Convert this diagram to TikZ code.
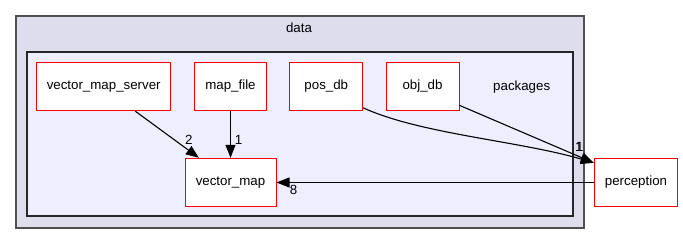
\documentclass[tikz,border=0pt]{standalone}
\usepackage{fontspec}
\setmainfont{Liberation Sans}
\usetikzlibrary{arrows.meta}

\definecolor{dirfill}{HTML}{DDDDEE}
\definecolor{pkgfill}{HTML}{EEEEFF}
\definecolor{dirline}{HTML}{505050}

\begin{document}
\begin{tikzpicture}[x=1pt, y=-1pt,
  font=\fontsize{13.3}{16}\selectfont,
  txt/.style={inner sep=0pt, text height=9.6pt, text depth=2.8pt},
  dir/.style={txt, draw=red, fill=white, line width=1pt, minimum height=48.4pt},
  lbl/.style={inner sep=0pt},
  dep/.style={-{Triangle[length=13pt,width=10pt]}, line width=1.1pt, black}]

\useasboundingbox (0,0) rectangle (683,244);

% outer directory and the packages folder inside it
\filldraw[fill=dirfill, draw=dirline, line width=2pt] (16,16) rectangle (584,228);
\node[txt] (data) at (299,29) {data};
\filldraw[fill=pkgfill, draw=black!85, line width=1.5pt] (27,52) rectangle (573,216);
\node[txt] (packages) at (521.7,87) {packages};

% sub directories
\node[dir, minimum width=134pt] (vmserver) at (103.7,86.5) {vector\_map\_server};
\node[dir, minimum width=72.4pt] (mapfile) at (230.5,86.5) {map\_file};
\node[dir, minimum width=72.7pt] (posdb) at (326.3,86.5) {pos\_db};
\node[dir, minimum width=73pt] (objdb) at (422.5,86.5) {obj\_db};
\node[dir, minimum width=91pt] (vmap) at (230.5,182.5) {vector\_map};
\node[dir, minimum width=83.4pt] (percep) at (636,182.5) {perception};

% dependencies
\draw[dep] (vmserver.-38) -- (vmap.142)
  node[lbl, at end, xshift=-10pt, yshift=18pt] (l2) {2};
\draw[dep] (mapfile.south) -- (vmap.north)
  node[lbl, at end, xshift=8pt, yshift=18pt] (l1) {1};
\draw[dep] (posdb.-30) .. controls (420,134) and (520,141) .. (percep.155)
  node[lbl, at end, xshift=-15pt, yshift=16pt] (lpos) {1};
\draw[dep] (objdb.-27) -- (percep.155)
  node[lbl, at end, xshift=-14pt, yshift=16pt] (lobj) {1};
\draw[dep] (percep.west) -- (vmap.east)
  node[lbl, at end, xshift=17pt, yshift=-7.5pt] (l8) {8};

\end{tikzpicture}
\end{document}
